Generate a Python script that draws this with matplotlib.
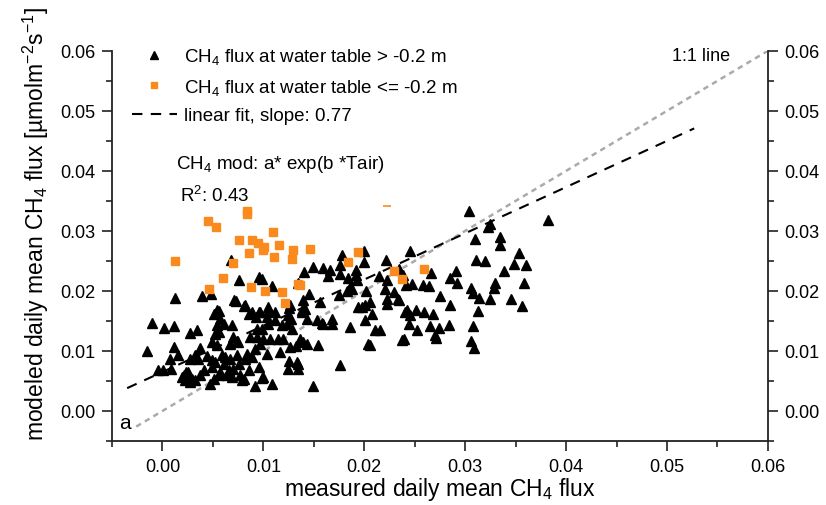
import matplotlib
matplotlib.use("Agg")
import matplotlib.pyplot as plt
from matplotlib.lines import Line2D
from matplotlib.ticker import MultipleLocator, FormatStrFormatter

plt.rcParams['font.family'] = ['Liberation Sans', 'DejaVu Sans']
plt.rcParams['mathtext.default'] = 'regular'

# ---- data: black triangles (water table > -0.2 m) ----
wet_x = [-0.00156, -0.00099, 0.0002, 0.00119, 0.00125, 0.00395, 0.0048, 0.00274, 0.00341, 0.00119,
         0.0007, 0.00159, 0.00373, -0.00047, 0.0001, 0.00085, 0.00274, 0.00357, 0.00209, 0.00258,
         0.00291, 0.00373, 0.00407, 0.0049, 0.0049, 0.00522, 0.00556, 0.00506, 0.00473, 0.00622,
         0.00606, 0.00655, 0.00688, 0.00755, 0.00771, 0.00837, 0.00854, 0.00804, 0.0092, 0.00953,
         0.0092, 0.00969, 0.0049, 0.00522, 0.00556, 0.00506, 0.00556, 0.00572, 0.00606, 0.00688,
         0.00705, 0.00728, 0.0082, 0.00854, 0.00887, 0.00953, 0.0087, 0.00671, 0.00748, 0.00681,
         0.00755, 0.00959, 0.00986, 0.01088, 0.01043, 0.01115, 0.01049, 0.00966, 0.01115, 0.01049,
         0.01182, 0.00983, 0.01281, 0.01247, 0.0138, 0.01413, 0.01396, 0.01453, 0.01562, 0.01529,
         0.01595, 0.01678, 0.01678, 0.0186, 0.01942, 0.02009, 0.02059, 0.02224, 0.0234, 0.02075,
         0.02009, 0.02108, 0.02158, 0.02042, 0.01761, 0.01496, 0.01247, 0.01331, 0.01347, 0.01082,
         0.00983, 0.01165, 0.01264, 0.0143, 0.01539, 0.01363, 0.01198, 0.01066, 0.01033, 0.02373,
         0.0239, 0.00999, 0.00999, 0.00785, 0.00636, 0.00569, 0.00701, 0.00189, 0.00221, 0.00271,
         0.00321, 0.00238, 0.00443, 0.00321, 0.00536, 0.00735, 0.00933, 0.01039, 0.00927, 0.00536,
         0.00812, 0.01257, 0.01386, 0.01403, 0.01496, 0.01595, 0.01661, 0.01761, 0.01784, 0.02002,
         0.02002, 0.0192, 0.0192, 0.01843, 0.01927, 0.01833, 0.0186, 0.02019, 0.02214, 0.02151,
         0.02224, 0.02208, 0.0229, 0.02416, 0.02449, 0.02334, 0.02423, 0.02224, 0.01976, 0.01754,
         0.01231, 0.01271, 0.0143, 0.01579, 0.01148, 0.01324, 0.0139, 0.02059, 0.01257, 0.01341,
         0.0089, 0.00817, 0.00668, 0.00586, 0.00735, 0.00933, 0.00695, 0.00536,
         0.03042, 0.03821, 0.0325, 0.03223, 0.03101, 0.03343, 0.03343, 0.03531, 0.03111, 0.032,
         0.03489, 0.03608, 0.03382, 0.0291, 0.02661, 0.02846, 0.0292, 0.033, 0.03588, 0.0329,
         0.03059, 0.02473, 0.02582, 0.02638, 0.02747, 0.03078, 0.03134, 0.0325, 0.03459, 0.03565,
         0.02846, 0.03124, 0.02406, 0.02456, 0.02515, 0.02588, 0.02677, 0.02439, 0.02522, 0.02647,
         0.02737, 0.02704, 0.02836, 0.03078, 0.03059, 0.03091, 0.02714,
         0.01639, 0.01761, 0.0234, 0.02383, 0.01877, 0.01264, 0.01347]
wet_y = [0.0100, 0.01472, 0.01383, 0.01417, 0.01888, 0.01922, 0.01955, 0.0130, 0.01355, 0.01067,
         0.00872, 0.00927, 0.0105, 0.00677, 0.00688, 0.00693, 0.0086, 0.00872, 0.00593, 0.0065,
         0.00538, 0.00593, 0.00677, 0.00843, 0.00733, 0.00817, 0.00593, 0.00538, 0.00455, 0.009,
         0.00788, 0.00677, 0.00567, 0.00788, 0.00593, 0.00955, 0.00677, 0.00538, 0.01038, 0.00733,
         0.00417, 0.01122, 0.0115, 0.01288, 0.01317, 0.01622, 0.0166, 0.01538, 0.01455, 0.01427,
         0.01843, 0.01838, 0.0176, 0.01622, 0.0165, 0.0165, 0.01233, 0.01122, 0.0115, 0.0251,
         0.02177, 0.02233, 0.02205, 0.02083, 0.01733, 0.0165, 0.0166, 0.0165, 0.0151, 0.01455,
         0.01438, 0.01372, 0.01372, 0.01593, 0.0165, 0.01705, 0.01843, 0.01955, 0.01817, 0.0151,
         0.01455, 0.01538, 0.01455, 0.014, 0.01733, 0.0176, 0.01817, 0.01788, 0.01843, 0.01622,
         0.0151, 0.01343, 0.01343, 0.01122, 0.0076, 0.00417, 0.00705, 0.00817, 0.00705, 0.00455,
         0.0055, 0.00983, 0.01067, 0.01122, 0.01093, 0.01193, 0.01205, 0.01193, 0.00955, 0.01177,
         0.01205, 0.01205, 0.00567, 0.0051, 0.00593, 0.0065, 0.00705, 0.00567, 0.0051, 0.00483,
         0.00522, 0.0065, 0.00917, 0.00927, 0.01093, 0.0116, 0.01372, 0.01567, 0.01567, 0.01677,
         0.0175, 0.01722, 0.01688, 0.02317, 0.024, 0.02388, 0.02343, 0.02288, 0.02605, 0.0266,
         0.02483, 0.02343, 0.02272, 0.02217, 0.02177, 0.01993, 0.02067, 0.01993, 0.02522, 0.02248,
         0.02177, 0.02027, 0.01983, 0.02093, 0.0266, 0.01872, 0.01688, 0.01872, 0.01733, 0.01927,
         0.01455, 0.01538, 0.01538, 0.01472, 0.01205, 0.0109, 0.0115, 0.01093, 0.00833, 0.00788,
         0.009, 0.00872, 0.00872, 0.00938, 0.00927, 0.01233, 0.01233, 0.01427,
         0.03327, 0.03177, 0.03122, 0.03067, 0.0287, 0.029, 0.02772, 0.02638, 0.02522, 0.02493,
         0.02455, 0.02438, 0.02327, 0.02327, 0.023, 0.02217, 0.02133, 0.02138, 0.02133, 0.0205,
         0.0205, 0.02122, 0.02093, 0.02088, 0.0191, 0.01967, 0.01888, 0.0186, 0.0186, 0.0175,
         0.0176, 0.0166, 0.0165, 0.01605, 0.01677, 0.0165, 0.01622, 0.01455, 0.01355, 0.0141,
         0.01383, 0.01272, 0.01427, 0.0141, 0.0116, 0.0105, 0.01222,
         0.0225, 0.02427, 0.02372, 0.0226, 0.02038, 0.0176, 0.02133]

# ---- data: orange squares (water table <= -0.2 m) ----
dry_x = [0.00122, 0.0045, 0.00529, 0.0046, 0.00599, 0.00698, 0.00757, 0.00837, 0.00837, 0.00887,
         0.00946, 0.01006, 0.00857, 0.01095, 0.01155, 0.00996, 0.01105, 0.01281, 0.01294, 0.01463,
         0.00877, 0.01016, 0.01182, 0.01215, 0.01344, 0.01364, 0.01837, 0.01939, 0.02297, 0.02377,
         0.02595]
dry_y = [0.02505, 0.03172, 0.03072, 0.02038, 0.02222, 0.02472, 0.02855, 0.03338, 0.03288, 0.02855,
         0.02805, 0.02738, 0.02638, 0.02988, 0.02772, 0.02685, 0.02572, 0.02538, 0.02688, 0.02705,
         0.02072, 0.02005, 0.01988, 0.01805, 0.02122, 0.02095, 0.02488, 0.02655, 0.02338, 0.02192,
         0.02372]
dry_dash_x = [0.0223]
dry_dash_y = [0.0341]

# ---- fit / reference lines ----
fit_slope = 0.77
fit_intercept = 0.0065
fit_x_range = [-0.0035, 0.0527]
one_to_one_range = [-0.0026, 0.06]

x_limits = [-0.005, 0.06]
y_limits = [-0.005, 0.06]

orange = '#fb8a1e'

fig = plt.figure(figsize=(8.26, 5.06), dpi=100)
ax = fig.add_axes([0.1356, 0.1265, 0.794, 0.771])

ax.plot(one_to_one_range, one_to_one_range, color='#aaaaaa', lw=1.8,
        linestyle=(0, (2.2, 1.8)), zorder=1)
fit_y = [fit_intercept + fit_slope * v for v in fit_x_range]
ax.plot(fit_x_range, fit_y, color='black', lw=1.5, linestyle=(0, (5, 4)), zorder=2)

ax.plot(wet_x, wet_y, linestyle='none', marker='^', color='black', ms=7.5, zorder=3)
ax.plot(dry_x, dry_y, linestyle='none', marker='s', color=orange, mec=orange, ms=5.8, zorder=4)
ax.plot(dry_dash_x, dry_dash_y, linestyle='none', marker='_', color=orange, ms=6, mew=1.2, zorder=4)

ax.set_xlim(x_limits)
ax.set_ylim(y_limits)

ax.spines['top'].set_visible(False)
for side in ['left', 'right', 'bottom']:
    ax.spines[side].set_linewidth(1.3)
    ax.spines[side].set_color('#222222')

ax.xaxis.set_major_locator(MultipleLocator(0.01))
ax.xaxis.set_minor_locator(MultipleLocator(0.005))
ax.yaxis.set_major_locator(MultipleLocator(0.01))
ax.yaxis.set_minor_locator(MultipleLocator(0.005))
ax.xaxis.set_major_formatter(FormatStrFormatter('%.2f'))
ax.yaxis.set_major_formatter(FormatStrFormatter('%.2f'))
ax.tick_params(which='both', direction='out', right=True, labelright=True, top=False,
               color='#222222', width=1.2, labelsize=13)
ax.tick_params(which='major', length=7, pad=5)
ax.tick_params(which='minor', length=4)

ax.set_xlabel('measured daily mean CH$_4$ flux', fontsize=16.5, labelpad=0)
ax.set_ylabel('modeled daily mean CH$_4$ flux [µmolm$^{-2}$s$^{-1}$]', fontsize=16.5)
ax.yaxis.set_label_coords(-0.093, 0.56)

handles = [
    Line2D([], [], linestyle='none', marker='^', color='black', ms=6),
    Line2D([], [], linestyle='none', marker='s', color=orange, ms=5),
    Line2D([], [], color='black', lw=1.5, linestyle=(0, (5, 4))),
]
labels = ['CH$_4$ flux at water table > -0.2 m',
          'CH$_4$ flux at water table <= -0.2 m',
          'linear fit, slope: 0.77']
ax.legend(handles, labels, loc='upper left', bbox_to_anchor=(0.03, 1.012), frameon=False,
          fontsize=13.5, handlelength=2.4, handletextpad=0.4, labelspacing=0.56,
          borderaxespad=0, borderpad=0)

ax.text(0.0013, 0.0413, 'CH$_4$ mod: a* exp(b *Tair)', fontsize=13.5, va='center', ha='left')
ax.text(0.0017, 0.0360, 'R$^2$: 0.43', fontsize=13.5, va='center', ha='left')
ax.text(0.0534, 0.0593, '1:1 line', fontsize=13, va='center', ha='center')
ax.text(-0.0037, -0.002, 'a', fontsize=15, va='center', ha='center')

fig.savefig('out.png', dpi=100)
